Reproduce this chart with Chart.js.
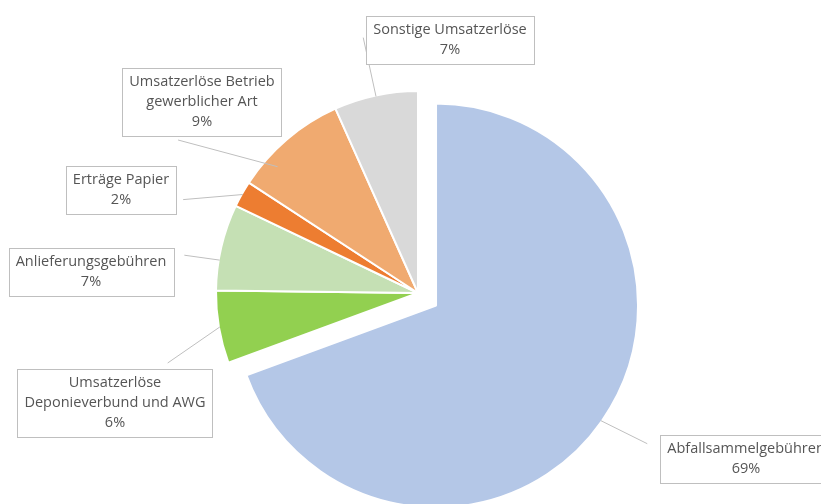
<!DOCTYPE html>
<html lang="de">
<head>
  <meta charset="UTF-8">
  <title>Erlöse</title>
  <script src="https://cdn.jsdelivr.net/npm/chart.js"></script>
  <style>
    html, body { margin: 0; padding: 0; background: #fff; }
    #wrap { width: 821px; height: 504px; position: relative; }
  </style>
</head>
<body>
  <div id="wrap"><canvas id="torte"></canvas></div>

  <script>
    // Daten (im Uhrzeigersinn ab 12 Uhr)
    const kategorien = [
      ['Abfallsammelgebühren'],
      ['Umsatzerlöse', 'Deponieverbund und AWG'],
      ['Anlieferungsgebühren'],
      ['Erträge Papier'],
      ['Umsatzerlöse Betrieb', 'gewerblicher Art'],
      ['Sonstige Umsatzerlöse']
    ];
    const anteile = [69.4, 5.8, 6.9, 2.1, 9.1, 6.7];
    const farben = ['#B4C7E7', '#92D050', '#C5E0B4', '#ED7D31', '#F0AA70', '#D9D9D9'];

    // herausgezogene Segmente (px)
    const explode = [22, 0, 0, 0, 0, 0];
    // Beschriftungskästen relativ zum Segmentmittelpunkt; Ansatzpunkt der Fuehrungslinie
    // (at = Anteil entlang des Bogens, rf = Radiusfaktor) und Seite am Kasten
    const labelLayout = [
      { dx: 310, dy: 153, side: 'left', t: 0.19, gap: 13, at: 0.5, rf: 1 },
      { dx: -303, dy: 110, side: 'top', t: 0.77, gap: 6, at: 0.5, rf: 1 },
      { dx: -327, dy: -21, side: 'right', t: 0.15, gap: 11, at: 0.35, rf: 1 },
      { dx: -297, dy: -103, side: 'right', t: 0.7, gap: 7, at: 0.5, rf: 1 },
      { dx: -216, dy: -191, side: 'bottom', t: 0.35, gap: 4, at: 0.27, rf: 0.94 },
      { dx: 32, dy: -253, side: 'left', t: 0.45, gap: 3, at: 0.5, rf: 1 }
    ];

    const schrift = '14.5px "Open Sans"';
    const zeilenHoehe = 20;

    const beschriftung = {
      id: 'beschriftung',
      afterDatasetsUpdate(chart) {
        const arcs = chart.getDatasetMeta(0).data;
        arcs.forEach((arc, i) => {
          const d = explode[i];
          if (!d) return;
          const mid = (arc.startAngle + arc.endAngle) / 2;
          arc.x += Math.cos(mid) * d;
          arc.y += Math.sin(mid) * d;
        });
      },
      afterDatasetsDraw(chart) {
        const ctx = chart.ctx;
        const arcs = chart.getDatasetMeta(0).data;
        const summe = anteile.reduce((a, b) => a + b, 0);
        ctx.save();
        ctx.font = schrift;
        ctx.textAlign = 'center';
        ctx.textBaseline = 'middle';
        arcs.forEach((arc, i) => {
          const lay = labelLayout[i];
          const zeilen = kategorien[i].concat([Math.round(anteile[i] / summe * 100) + '%']);
          const breite = Math.max(...zeilen.map(z => ctx.measureText(z).width)) + 14;
          const hoehe = zeilen.length * zeilenHoehe + 8;
          const cx = arc.x + lay.dx, cy = arc.y + lay.dy;
          const left = cx - breite / 2, top = cy - hoehe / 2;

          // Fuehrungslinie
          const ang = arc.startAngle + (arc.endAngle - arc.startAngle) * lay.at;
          const r = arc.outerRadius * lay.rf - 1;
          const ax = arc.x + Math.cos(ang) * r, ay = arc.y + Math.sin(ang) * r;
          let ex, ey;
          if (lay.side === 'left') { ex = left - lay.gap; ey = top + lay.t * hoehe; }
          if (lay.side === 'right') { ex = left + breite + lay.gap; ey = top + lay.t * hoehe; }
          if (lay.side === 'top') { ex = left + lay.t * breite; ey = top - lay.gap; }
          if (lay.side === 'bottom') { ex = left + lay.t * breite; ey = top + hoehe + lay.gap; }
          ctx.strokeStyle = '#BFBFBF';
          ctx.lineWidth = 1;
          ctx.beginPath();
          ctx.moveTo(ax, ay);
          ctx.lineTo(ex, ey);
          ctx.stroke();

          // Kasten
          ctx.fillStyle = '#FFFFFF';
          ctx.fillRect(Math.round(left) + 0.5, Math.round(top) + 0.5, Math.round(breite), Math.round(hoehe));
          ctx.strokeStyle = '#BFBFBF';
          ctx.strokeRect(Math.round(left) + 0.5, Math.round(top) + 0.5, Math.round(breite), Math.round(hoehe));

          ctx.fillStyle = '#555555';
          zeilen.forEach((z, k) => {
            ctx.fillText(z, cx, top + 4 + zeilenHoehe * (k + 0.5));
          });
        });
        ctx.restore();
      }
    };

    new Chart(document.getElementById('torte'), {
      type: 'pie',
      data: {
        labels: kategorien,
        datasets: [{
          data: anteile,
          backgroundColor: farben,
          borderColor: '#FFFFFF',
          borderWidth: 2,
          hoverOffset: 0
        }]
      },
      options: {
        responsive: true,
        maintainAspectRatio: false,
        animation: false,
        events: [],
        radius: 202,
        layout: { padding: { left: 15, right: 0, top: 82, bottom: 0 } },
        plugins: {
          legend: { display: false },
          tooltip: { enabled: false }
        }
      },
      plugins: [beschriftung]
    });
  </script>
</body>
</html>
